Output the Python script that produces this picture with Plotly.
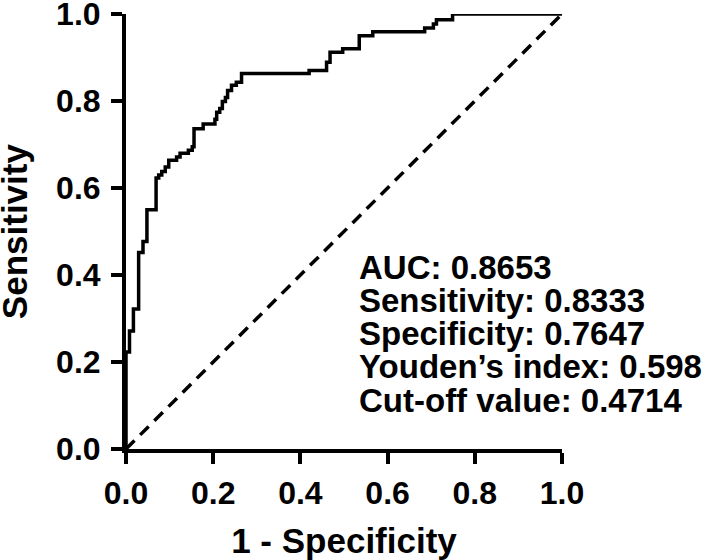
import plotly.graph_objects as go

# ROC curve points (1 - specificity, sensitivity)
fpr = [0, 0, 0.008, 0.017, 0.029, 0.039, 0.048, 0.069, 0.075, 0.082, 0.090,
       0.098, 0.116, 0.124, 0.143, 0.152, 0.156, 0.177, 0.204, 0.208, 0.215,
       0.221, 0.228, 0.233, 0.242, 0.253, 0.265, 0.420, 0.460, 0.468, 0.497,
       0.535, 0.566, 0.685, 0.705, 0.712, 0.749, 1.0]
tpr = [0, 0.223, 0.271, 0.322, 0.452, 0.477, 0.550, 0.623, 0.630, 0.638, 0.648,
       0.664, 0.671, 0.680, 0.687, 0.695, 0.736, 0.747, 0.758, 0.774, 0.783,
       0.799, 0.808, 0.824, 0.836, 0.843, 0.863, 0.870, 0.889, 0.912, 0.920,
       0.950, 0.959, 0.968, 0.977, 0.987, 1.0, 1.0]

# reference line
ref_x = [0, 1]
ref_y = [0, 1]

tick_vals = [0.0, 0.2, 0.4, 0.6, 0.8, 1.0]
tick_text = ["0.0", "0.2", "0.4", "0.6", "0.8", "1.0"]

stats = [
    "AUC: 0.8653",
    "Sensitivity: 0.8333",
    "Specificity: 0.7647",
    "Youden\u2019s index: 0.598",
    "Cut-off value: 0.4714",
]

FONT = "Liberation Sans, Arial, sans-serif"

fig = go.Figure()
fig.add_trace(go.Scatter(x=ref_x, y=ref_y, mode="lines",
                         line=dict(color="black", width=3.5, dash="12px,8px"),
                         showlegend=False))
fig.add_trace(go.Scatter(x=fpr, y=tpr, mode="lines", line_shape="hv",
                         line=dict(color="black", width=3.5),
                         cliponaxis=False, showlegend=False))

# stats text, one line per annotation
for i, s in enumerate(stats):
    fig.add_annotation(x=0.530, y=0.418 - i * 0.0764, xref="x", yref="y",
                       text=s, showarrow=False, xanchor="left", yanchor="middle",
                       font=dict(family=FONT, size=33, color="black", weight="bold"))

# y title as a rotated annotation so it can sit right at the left edge
fig.add_annotation(x=-0.2554, y=0.5, xref="paper", yref="paper",
                   text="Sensitivity", textangle=-90, showarrow=False,
                   xanchor="center", yanchor="middle",
                   font=dict(family=FONT, size=35, color="black", weight="bold"))

axis_style = dict(
    range=[0, 1], tickvals=tick_vals, ticktext=tick_text, automargin=False,
    showgrid=False, zeroline=False, showline=True, linecolor="black", linewidth=4,
    ticks="outside", ticklen=11, tickwidth=4, tickcolor="black",
    ticklabeloverflow="allow",
    tickfont=dict(family=FONT, size=32, color="black", weight="bold"),
    title_font=dict(family=FONT, size=35, color="black", weight="bold"),
)

fig.update_xaxes(title_text="1 - Specificity", title_standoff=25,
                 ticklabelstandoff=2, **axis_style)
fig.update_yaxes(ticklabelstandoff=4, **axis_style)

fig.update_layout(
    width=709, height=560,
    margin=dict(l=125.5, r=147, t=13.5, b=110.5),
    plot_bgcolor="white", paper_bgcolor="white",
)

# drop the default page margin so the figure fills the window
fig.write_html("out.html", config={"displayModeBar": False},
               post_script="document.body.style.margin = '0';")
